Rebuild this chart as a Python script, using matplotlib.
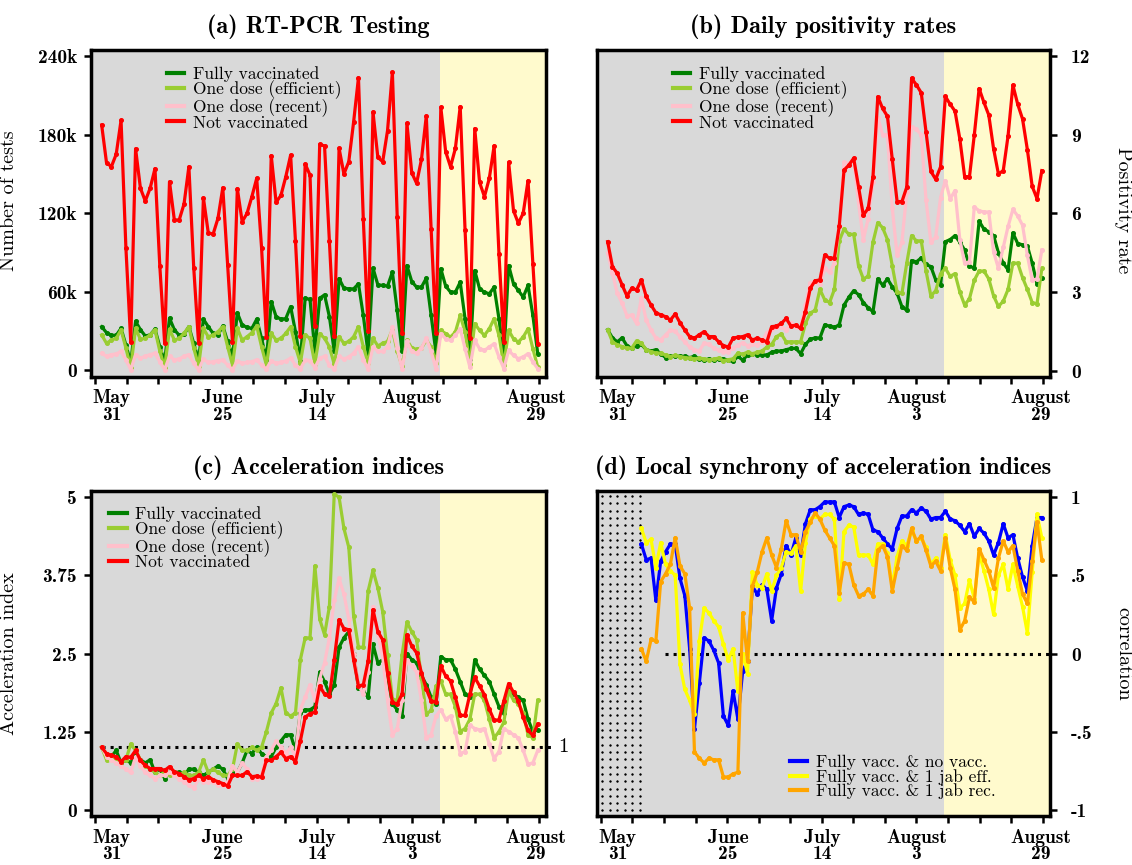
import numpy as np
import matplotlib
matplotlib.use('Agg')
from matplotlib import pyplot as plt

BOLD = 'cmb10'
REG = 'cmr10'

days = np.arange(91)          # May 31 .. August 29
days_corr = np.arange(7, 91)  # correlation needs a 7-day window

tick_pos = -1.4 + 6.54 * np.arange(15)
label_pos = [2.1, 25, 44.5, 64, 89.7]
label_txt = ['May\n31', 'June\n25', 'July\n14', 'August\n3', 'August\n29']

groups = ['Fully vaccinated', 'One dose (efficient)', 'One dose (recent)', 'Not vaccinated']
group_colors = ['#008000', '#9acd32', '#ffc0cb', '#ff0000']

# (a) number of RT-PCR tests, thousands
tests_full = [33.3, 28.7, 26.7, 26.7, 32, 19.3, 6, 37.3, 31, 26.2,
              27, 31.4, 18, 6.6, 39.8, 31, 26.7, 27.5, 33.3, 20.6,
              8, 39, 33.3, 28.2, 27, 33.8, 22, 10.6, 43.8, 34.6,
              32.8, 32, 39, 24.4, 8, 52.4, 41, 39, 39.5, 48.6,
              29.5, 7.4, 55, 54.1, 15, 55, 57.6, 41, 14.6, 70,
              62.7, 62.2, 62.2, 66, 41.9, 12.7, 78, 65.3, 64.8, 64.3,
              74.9, 45.7, 14.5, 80, 67.8, 63.5, 63.5, 70.3, 41.9, 13.5,
              77.5, 64.3, 59.7, 59.7, 67.3, 39.4, 8.9, 76.2, 62.2, 59.7,
              58.4, 63.5, 39.4, 10.2, 80, 66, 61, 55.9, 64.8, 41.9, 12.7]
tests_eff = [27, 20.6, 23.1, 24.4, 31, 17, 2, 32, 23.7, 24.4,
             27, 31, 14.6, 2, 31.4, 23.1, 24.4, 28.2, 33.3, 17,
             3.3, 32, 25.6, 27, 29.5, 33.3, 18, 4, 32, 23.1,
             25.6, 28.7, 33.8, 18, 4, 28.2, 23.1, 24.4, 28.2, 33.3,
             18, 5.8, 27, 24.4, 5, 28, 24.4, 18, 4.6, 25.6,
             20.6, 22, 25.6, 33.3, 18, 5.8, 24.4, 18.6, 20.6, 22,
             31, 14.6, 3.3, 23, 17, 16, 17, 23, 18, 5.8,
             30.5, 28, 25.4, 29.2, 42, 29.2, 5, 35.6, 30.5, 26.7,
             31.7, 39.4, 26.7, 3.8, 30.5, 24, 21.6, 25.4, 31.7, 16.5, 2.5]
tests_rec = [13, 10.7, 12, 12.5, 14.4, 8, 0.5, 12, 9.3, 10.7,
             12, 13, 6.6, 0.5, 10.7, 8, 8.6, 10.7, 12, 5.3,
             0.5, 8.6, 6, 6.6, 7.4, 8, 4, 0.5, 7.4, 5.3,
             6, 6.6, 8, 4, 1, 7.4, 5.3, 6, 7, 9.3,
             4, 1, 8, 7.4, 2, 9.3, 10.7, 4, 1, 10.7,
             8.6, 10.2, 13, 18, 8, 1, 18, 14.4, 14.4, 18,
             33, 17, 1, 22, 14.4, 13, 17, 24.4, 14.4, 1,
             28, 24, 22.9, 26.7, 31.7, 16.5, 2.5, 22.9, 16.5, 15.2,
             17.8, 20.3, 10.2, 1.3, 15.2, 11.4, 8.9, 10.2, 12.7, 6.3, 1.3]
tests_none = [187.3, 158.5, 155.5, 165, 190.9, 93.6, 21.9, 169.2, 139, 129.3,
              139, 154, 79.6, 20.6, 144, 114.8, 114.8, 127, 155.5, 78.4,
              20.6, 131.6, 105, 104, 116, 139.4, 80.3, 21.3, 138.7, 113.5,
              119.8, 132.6, 146.6, 93.6, 25.7, 163.9, 128.3, 133.6, 147.8, 164.3,
              98.7, 26.2, 157.5, 149.1, 33.8, 172.5, 171.3, 98.7, 26.2, 169.5,
              149.9, 159.3, 189.6, 223.4, 115.5, 30, 197.2, 162.6, 159.3, 183,
              227.5, 117.3, 28.2, 188.6, 150.9, 142.8, 161, 194.2, 107.6, 28.2,
              200.8, 166.9, 155.4, 169.4, 201.4, 107.2, 24.6, 184.6, 143.5, 132.6,
              146.5, 171.4, 88.9, 21.6, 158.7, 121.9, 112.3, 119.9, 144.8, 81.3, 19.8]

# (b) positivity rates, %
pos_full = [1.56, 1.25, 1.1, 1.25, 0.95, 0.85, 0.95, 1.0, 0.8, 0.75,
            0.8, 0.65, 0.5, 0.55, 0.55, 0.55, 0.55, 0.5, 0.55, 0.45,
            0.4, 0.45, 0.4, 0.45, 0.45, 0.4, 0.35, 0.55, 0.4, 0.6,
            0.65, 0.6, 0.6, 0.6, 0.7, 0.75, 0.75, 0.8, 0.85, 0.85,
            0.65, 1.0, 1.2, 1.25, 1.25, 1.75, 1.7, 1.65, 1.75, 2.5,
            2.8, 3.05, 2.9, 2.6, 2.4, 2.25, 3.5, 3.26, 3.5, 3.2,
            2.95, 2.44, 2.3, 4.2, 4.15, 4.3, 4.05, 3.97, 3.46, 3.27,
            4.92, 5.0, 5.15, 4.9, 4.6, 4.0, 3.9, 5.7, 5.4, 5.3,
            5.15, 4.5, 4.1, 3.85, 5.25, 4.85, 4.8, 4.75, 4.1, 3.3, 3.55]
pos_eff = [1.56, 1.1, 0.99, 0.92, 0.86, 0.86, 1.14, 1.05, 0.8, 0.73,
           0.67, 0.67, 0.6, 0.54, 0.58, 0.54, 0.5, 0.48, 0.45, 0.48,
           0.45, 0.42, 0.44, 0.48, 0.38, 0.42, 0.45, 0.67, 0.63, 0.71,
           0.65, 0.7, 0.75, 0.9, 1.0, 1.3, 1.4, 1.1, 1.1, 1.1,
           1.1, 1.8, 2.2, 2.3, 3.1, 2.7, 2.6, 3.1, 4.95, 5.4,
           5.2, 5.2, 4.0, 3.5, 3.6, 4.9, 5.65, 5.45, 5.0, 4.0,
           3.0, 2.95, 4.1, 5.15, 4.95, 4.95, 3.8, 2.85, 3.05, 3.7,
           3.9, 3.6, 3.7, 3.0, 2.5, 2.75, 3.45, 3.8, 3.8, 3.5,
           2.85, 2.45, 2.65, 3.1, 4.1, 4.1, 3.55, 3.1, 2.6, 2.55, 3.9]
pos_rec = [4.48, 3.72, 2.95, 2.57, 2.1, 2.12, 1.8, 2.76, 1.93, 1.55,
           1.24, 1.17, 1.36, 1.55, 1.5, 1.3, 1.1, 0.9, 0.8, 0.75,
           1.05, 1.0, 0.86, 0.79, 0.73, 0.72, 0.86, 0.98, 1.07, 0.95,
           1.02, 0.98, 1.11, 1.45, 1.58, 1.68, 1.68, 1.55, 1.8, 1.68,
           1.65, 2.5, 3.35, 3.4, 3.3, 3.9, 3.75, 4.1, 5.5, 7.95,
           7.9, 8.1, 6.4, 5.0, 5.8, 7.2, 9.65, 9.0, 9.0, 6.2,
           4.4, 4.9, 6.8, 9.3, 9.2, 9.0, 6.5, 4.9, 5.1, 6.6,
           7.25, 6.55, 6.87, 5.0, 4.1, 4.15, 6.24, 6.1, 6.05, 6.05,
           4.53, 3.9, 4.7, 5.5, 6.15, 5.9, 5.55, 4.4, 3.45, 3.5, 4.6]
pos_none = [4.92, 3.97, 3.71, 3.27, 2.85, 3.14, 3.08, 3.46, 2.83, 2.5,
            2.21, 2.13, 2.06, 1.93, 2.16, 1.83, 1.55, 1.3, 1.24, 1.37,
            1.49, 1.3, 1.3, 1.1, 0.96, 0.9, 1.24, 1.28, 1.3, 1.37,
            1.17, 1.24, 1.17, 1.1, 1.68, 1.7, 1.8, 1.99, 1.7, 1.74,
            1.61, 2.25, 3.14, 3.43, 3.46, 4.41, 4.29, 4.29, 5.5, 7.65,
            7.84, 8.1, 7.02, 5.93, 6.19, 7.4, 10.45, 10.0, 9.7, 8.06,
            6.45, 6.45, 7.0, 11.15, 10.9, 10.6, 9.1, 7.6, 7.3, 7.77,
            10.46, 10.16, 9.9, 8.84, 7.4, 7.4, 8.99, 10.76, 10.23, 9.75,
            8.46, 7.5, 7.63, 8.96, 10.89, 10.16, 9.6, 8.43, 7.03, 6.56, 7.63]

# (c) acceleration indices
acc_full = [1.0, 0.85, 0.85, 0.95, 0.75, 0.8, 0.75, 0.9, 0.8, 0.75,
            0.8, 0.6, 0.65, 0.5, 0.6, 0.6, 0.6, 0.55, 0.65, 0.65,
            0.6, 0.55, 0.6, 0.65, 0.7, 0.65, 0.5, 0.6, 0.6, 0.75,
            0.95, 0.9, 1.0, 0.9, 0.85, 0.85, 1.0, 1.1, 1.2, 1.2,
            0.95, 1.55, 1.6, 1.6, 1.65, 2.2, 2.05, 1.85, 2.0, 2.6,
            2.75, 2.85, 2.5, 1.95, 1.9, 1.8, 2.65, 2.35, 2.4, 2.15,
            1.7, 1.6, 1.5, 2.5, 2.4, 2.35, 2.15, 2.0, 1.8, 1.7,
            2.45, 2.4, 2.4, 2.25, 2.05, 1.85, 1.8, 2.4, 2.25, 2.15,
            2.05, 1.85, 1.65, 1.55, 1.95, 1.85, 1.8, 1.75, 1.45, 1.25, 1.28]
acc_eff = [1.0, 0.8, 0.85, 0.8, 0.75, 0.8, 1.05, 0.95, 0.8, 0.7,
           0.65, 0.6, 0.55, 0.6, 0.55, 0.6, 0.55, 0.6, 0.55, 0.55,
           0.6, 0.8, 0.6, 0.65, 0.6, 0.55, 0.55, 0.65, 1.05, 0.95,
           0.95, 1.0, 0.95, 1.0, 1.25, 1.55, 1.7, 1.95, 1.55, 1.5,
           1.55, 2.4, 2.75, 2.75, 3.9, 3.05, 2.8, 3.25, 5.05, 5.0,
           4.5, 4.2, 3.1, 2.6, 2.6, 3.5, 3.83, 3.55, 3.17, 2.48,
           1.77, 1.75, 2.48, 3.0, 2.85, 2.72, 2.11, 1.53, 1.59, 1.98,
           2.06, 1.85, 1.85, 1.65, 1.25, 1.3, 1.45, 1.85, 1.85, 1.75,
           1.45, 1.15, 1.25, 1.4, 1.9, 1.75, 1.7, 1.55, 1.2, 1.15, 1.75]
acc_rec = [1.0, 0.85, 0.8, 0.75, 0.7, 0.65, 0.6, 0.85, 0.7, 0.6,
           0.55, 0.5, 0.55, 0.55, 0.6, 0.55, 0.5, 0.45, 0.4, 0.35,
           0.5, 0.45, 0.45, 0.45, 0.4, 0.4, 0.45, 0.7, 0.6, 0.75,
           0.65, 0.5, 0.5, 0.55, 0.85, 0.95, 1.1, 1.0, 0.9, 1.0,
           0.85, 1.6, 1.8, 2.0, 1.75, 2.1, 2.35, 2.75, 3.35, 3.7,
           3.45, 3.05, 2.5, 2.0, 1.85, 2.2, 3.25, 2.8, 2.45, 1.75,
           1.2, 1.3, 1.75, 2.4, 2.3, 2.2, 1.75, 1.15, 1.2, 1.5,
           1.6, 1.45, 1.5, 1.25, 0.9, 0.93, 1.35, 1.3, 1.28, 1.3,
           1.05, 0.82, 0.93, 1.3, 1.25, 1.2, 1.15, 0.95, 0.73, 0.75, 0.95]
acc_none = [1.0, 0.9, 0.87, 0.85, 0.77, 0.85, 0.84, 0.95, 0.79, 0.71,
            0.66, 0.66, 0.66, 0.63, 0.69, 0.61, 0.58, 0.53, 0.48, 0.5,
            0.55, 0.5, 0.53, 0.48, 0.45, 0.42, 0.38, 0.55, 0.55, 0.55,
            0.61, 0.53, 0.54, 0.52, 0.79, 0.79, 0.85, 0.92, 0.82, 0.85,
            0.77, 1.1, 1.48, 1.54, 1.56, 1.98, 1.85, 1.82, 2.4, 3.04,
            2.9, 2.88, 2.4, 1.98, 2.0, 2.38, 3.2, 2.85, 2.72, 2.19,
            1.72, 1.69, 1.85, 2.8, 2.62, 2.51, 2.19, 1.93, 1.74, 1.72,
            2.3, 2.14, 2.06, 1.8, 1.51, 1.51, 1.85, 2.12, 1.98, 1.84,
            1.61, 1.43, 1.44, 1.74, 2.02, 1.88, 1.74, 1.48, 1.27, 1.19, 1.37]

# (d) local correlation of acceleration indices
pairs = ['Fully vacc. & no vacc.', 'Fully vacc. & 1 jab eff.', 'Fully vacc. & 1 jab rec.']
pair_colors = ['#0000ff', '#ffff00', '#ffa500']
corr_none = [0.70, 0.6, 0.61, 0.34, 0.59, 0.65, 0.70, 0.70, 0.48, 0.37,
             0.03, -0.48, -0.19, 0.1, 0.08, 0.02, -0.06, -0.4, -0.46, -0.24,
             -0.42, -0.11, -0.05, 0.43, 0.38, 0.44, 0.41, 0.21, 0.42, 0.51,
             0.69, 0.63, 0.74, 0.63, 0.83, 0.92, 0.92, 0.94, 0.97, 0.97,
             0.97, 0.87, 0.94, 0.95, 0.94, 0.89, 0.9, 0.89, 0.79, 0.78,
             0.74, 0.7, 0.67, 0.8, 0.88, 0.88, 0.92, 0.9, 0.93, 0.91,
             0.86, 0.87, 0.87, 0.91, 0.86, 0.85, 0.82, 0.78, 0.83, 0.75,
             0.8, 0.77, 0.72, 0.63, 0.71, 0.83, 0.74, 0.76, 0.61, 0.49,
             0.4, 0.69, 0.87, 0.87]
corr_eff = [0.8, 0.71, 0.73, 0.55, 0.71, 0.57, 0.53, 0.5, -0.07, -0.23,
            -0.3, -0.39, 0.08, 0.29, 0.26, 0.21, 0.17, 0.06, -0.04, 0.03,
            -0.24, 0.0, -0.13, 0.52, 0.44, 0.42, 0.51, 0.4, 0.5, 0.55,
            0.65, 0.64, 0.69, 0.4, 0.71, 0.86, 0.88, 0.86, 0.89, 0.89,
            0.86, 0.35, 0.78, 0.82, 0.81, 0.63, 0.63, 0.63, 0.57, 0.7,
            0.7, 0.64, 0.43, 0.62, 0.72, 0.69, 0.79, 0.72, 0.74, 0.68,
            0.57, 0.61, 0.55, 0.76, 0.6, 0.5, 0.29, 0.32, 0.47, 0.35,
            0.64, 0.53, 0.41, 0.25, 0.5, 0.57, 0.41, 0.57, 0.43, 0.3,
            0.13, 0.52, 0.89, 0.74]
corr_rec = [0.03, -0.05, 0.09, 0.08, 0.46, 0.51, 0.57, 0.74, 0.56, 0.51,
            0.29, -0.63, -0.67, -0.7, -0.67, -0.68, -0.68, -0.79, -0.79, -0.77,
            -0.76, 0.26, -0.05, 0.43, 0.52, 0.65, 0.74, 0.63, 0.55, 0.67,
            0.85, 0.76, 0.76, 0.65, 0.78, 0.84, 0.9, 0.86, 0.79, 0.74,
            0.69, 0.39, 0.58, 0.57, 0.44, 0.37, 0.38, 0.41, 0.37, 0.66,
            0.69, 0.62, 0.4, 0.55, 0.69, 0.66, 0.8, 0.72, 0.75, 0.66,
            0.56, 0.59, 0.53, 0.74, 0.55, 0.41, 0.15, 0.21, 0.36, 0.33,
            0.67, 0.6, 0.53, 0.42, 0.61, 0.72, 0.65, 0.69, 0.53, 0.38,
            0.32, 0.59, 0.84, 0.6]

XMIN, XMAX = -2.2, 91.7
SHADE_START = 69.8
TICK_FS = 14


def setup(ax, title, right=False):
    ax.set_facecolor('#d9d9d9')
    ax.axvspan(SHADE_START, XMAX + 1, color='#fffacd', lw=0, zorder=0)
    ax.set_xlim(XMIN, XMAX)
    ax.xaxis.remove_overlapping_locs = False
    ax.set_xticks(tick_pos)
    ax.set_xticklabels([])
    ax.set_xticks(label_pos, minor=True)
    ax.set_xticklabels(label_txt, minor=True, fontfamily=BOLD, fontsize=TICK_FS,
                       linespacing=0.9)
    ax.tick_params(axis='x', which='minor', length=0, pad=9)
    ax.tick_params(which='major', length=5, width=1.8, direction='out')
    ax.tick_params(axis='y', pad=10 if right else 5)
    for s in ax.spines.values():
        s.set_linewidth(2.5)
    if right:
        ax.yaxis.tick_right()
    ax.set_title(title, fontfamily=BOLD, fontsize=17.5, pad=12)


def draw(ax, x, y, c, label):
    ax.plot(x, y, color=c, lw=2.3, marker='o', ms=2.6, label=label, zorder=3)


def legend(ax, **kw):
    leg = ax.legend(frameon=False, prop={'family': REG, 'size': 12.5},
                    handlelength=1.0, handletextpad=0.5, labelspacing=-0.08,
                    borderaxespad=0, **kw)
    for h in leg.legend_handles:
        h.set_marker('')
        h.set_linewidth(3)
    return leg


fig = plt.figure(figsize=(11.32, 8.65), dpi=100)
ax_a = fig.add_axes([0.0804, 0.5642, 0.4019, 0.3780])
ax_b = fig.add_axes([0.5274, 0.5642, 0.4002, 0.3780])
ax_c = fig.add_axes([0.0804, 0.0566, 0.4019, 0.3758])
ax_d = fig.add_axes([0.5274, 0.0566, 0.4002, 0.3758])

# (a)
setup(ax_a, '(a) RT-PCR Testing')
for y, c, g in zip([tests_full, tests_eff, tests_rec, tests_none], group_colors, groups):
    draw(ax_a, days, y, c, g)
ax_a.set_ylim(-5.1, 244.6)
ax_a.set_yticks([0, 60, 120, 180, 240])
ax_a.set_yticklabels(['0', '60k', '120k', '180k', '240k'], fontfamily=BOLD, fontsize=TICK_FS)
ax_a.set_ylabel('Number of tests', fontfamily=REG, fontsize=14.5)
ax_a.yaxis.set_label_coords(-0.16, 0.54)
legend(ax_a, loc='upper left', bbox_to_anchor=(0.152, 0.972))

# (b)
setup(ax_b, '(b) Daily positivity rates', right=True)
for y, c, g in zip([pos_full, pos_eff, pos_rec, pos_none], group_colors, groups):
    draw(ax_b, days, y, c, g)
ax_b.set_ylim(-0.24, 12.23)
ax_b.set_yticks([0, 3, 6, 9, 12])
ax_b.set_yticklabels(['0', '3', '6', '9', '12'], fontfamily=BOLD, fontsize=TICK_FS)
ax_b.set_ylabel('Positivity rate', fontfamily=REG, fontsize=14.5, rotation=270,
                va='center', ha='center')
ax_b.yaxis.set_label_coords(1.161, 0.51)
legend(ax_b, loc='upper left', bbox_to_anchor=(0.152, 0.972))

# (c)
setup(ax_c, '(c) Acceleration indices')
ax_c.plot([0, 93.2], [1, 1], color='black', ls=':', lw=2.2, clip_on=False, zorder=2)
ax_c.text(95.3, 1.0, '1', fontfamily=REG, fontsize=15, ha='center', va='center')
for y, c, g in zip([acc_full, acc_eff, acc_rec, acc_none], group_colors, groups):
    draw(ax_c, days, y, c, g)
ax_c.set_ylim(-0.1, 5.1)
ax_c.set_yticks([0, 1.25, 2.5, 3.75, 5])
ax_c.set_yticklabels(['0', '1.25', '2.5', '3.75', '5'], fontfamily=BOLD, fontsize=TICK_FS)
ax_c.set_ylabel('Acceleration index', fontfamily=REG, fontsize=14.5)
ax_c.yaxis.set_label_coords(-0.16, 0.5)
legend(ax_c, loc='upper left', bbox_to_anchor=(0.025, 0.975))

# (d)
setup(ax_d, '(d) Local synchrony of acceleration indices', right=True)
# dotted pattern over the days without a full correlation window
gx = np.arange(-1.1, 7.0, 1.55)
gy = 1.008 - 0.0468 * np.arange(44)
GX, GY = np.meshgrid(gx, gy)
ax_d.scatter(GX.ravel(), GY.ravel(), marker='+', s=4, c='black', linewidths=1.0, zorder=1)
ax_d.plot([11.9, XMAX], [0, 0], color='black', ls=':', lw=2.2, zorder=2)
for y, c, p in zip([corr_none, corr_eff, corr_rec], pair_colors, pairs):
    draw(ax_d, days_corr, y, c, p)
ax_d.set_ylim(-1.04, 1.04)
ax_d.set_yticks([-1, -0.5, 0, 0.5, 1])
ax_d.set_yticklabels(['-1', '-.5', '0', '.5', '1'], fontfamily=BOLD, fontsize=TICK_FS)
ax_d.set_ylabel('correlation', fontfamily=REG, fontsize=14.5, rotation=270,
                va='center', ha='center')
ax_d.yaxis.set_label_coords(1.161, 0.5)
legend(ax_d, loc='lower left', bbox_to_anchor=(0.41, 0.03))

fig.savefig('out.png', dpi=100)
